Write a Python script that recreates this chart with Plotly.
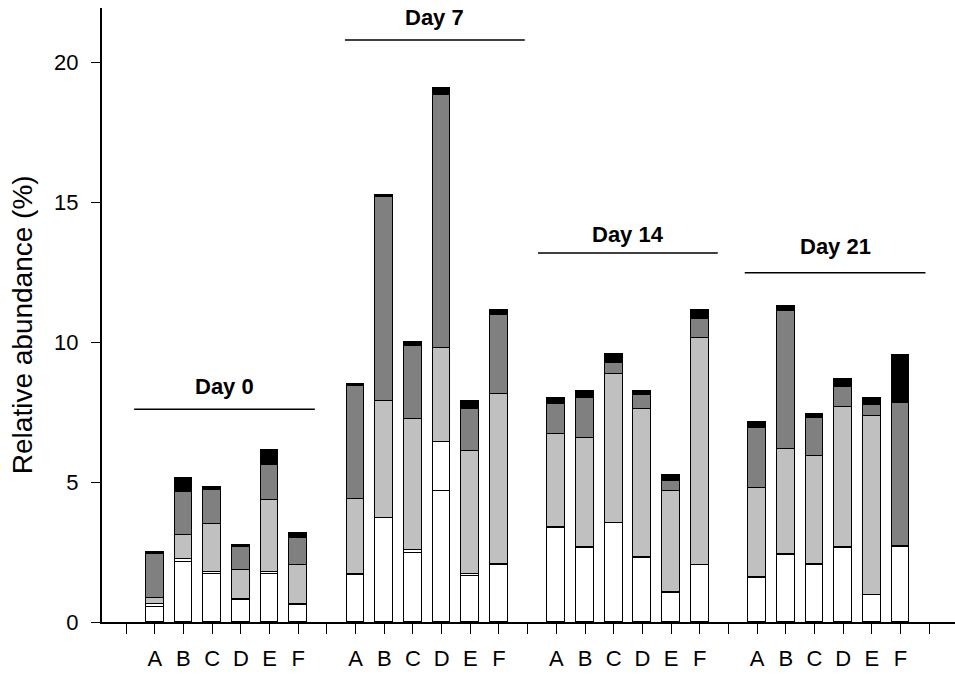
import plotly.graph_objects as go

groups = ["Day 0", "Day 7", "Day 14", "Day 21"]
samples = ["A", "B", "C", "D", "E", "F"]

# segment values, bottom to top, for each bar (Day0 A-F, Day7 A-F, Day14 A-F, Day21 A-F)
seg1_white = [0.55, 2.15, 1.72, 0.78, 1.72, 0.62,
              1.68, 3.70, 2.48, 4.68, 1.64, 2.05,
              3.35, 2.66, 3.52, 2.29, 1.03, 2.02,
              1.56, 2.39, 2.03, 2.65, 0.96, 2.68]
seg2_white = [0.10, 0.10, 0.08, 0.05, 0.08, 0.04,
              0.03, 0.03, 0.10, 1.75, 0.08, 0.03,
              0.03, 0.03, 0.03, 0.03, 0.03, 0.03,
              0.06, 0.05, 0.05, 0.03, 0.02, 0.02]
seg3_light = [0.20, 0.85, 1.70, 1.03, 2.56, 1.38,
              2.68, 4.15, 4.68, 3.35, 4.39, 6.05,
              3.32, 3.88, 5.32, 5.28, 3.63, 8.09,
              3.17, 3.73, 3.85, 4.99, 6.38, 0.00]
seg4_dark = [1.57, 1.55, 1.21, 0.83, 1.25, 0.95,
             4.05, 7.31, 2.61, 9.06, 1.50, 2.83,
             1.10, 1.44, 0.39, 0.50, 0.33, 0.67,
             2.14, 4.93, 1.37, 0.72, 0.38, 5.11]
seg5_black = [0.08, 0.48, 0.12, 0.06, 0.53, 0.18,
              0.07, 0.06, 0.13, 0.22, 0.30, 0.19,
              0.20, 0.23, 0.32, 0.15, 0.24, 0.34,
              0.21, 0.17, 0.14, 0.30, 0.27, 1.71]

# group header lines (data coords) and label offsets
header_x0 = [0.28, 7.63, 14.36, 21.57]
header_x1 = [6.58, 13.9, 20.63, 27.87]
header_y = [7.6, 20.79, 13.18, 12.47]
header_shift = [8, 8, 4, 12]

# x positions: groups separated by an empty slot
xpos = []
for g in range(len(groups)):
    for s in range(len(samples)):
        xpos.append(g * 7 + 1 + s)

tickvals = list(range(0, 29))
ticktext = []
for t in tickvals:
    if t % 7 == 0:
        ticktext.append("")
    else:
        ticktext.append(samples[(t % 7) - 1])

fig = go.Figure()
series = [(seg1_white, "white"), (seg2_white, "white"), (seg3_light, "#c0c0c0"),
          (seg4_dark, "#808080"), (seg5_black, "black")]
for vals, col in series:
    fig.add_trace(go.Bar(x=xpos, y=vals, width=0.62,
                         marker=dict(color=col, line=dict(color="black", width=1.5)),
                         showlegend=False))

for name, x0, x1, y, sh in zip(groups, header_x0, header_x1, header_y, header_shift):
    fig.add_shape(type="line", x0=x0, x1=x1, y0=y, y1=y, xref="x", yref="y",
                  line=dict(color="black", width=1.5))
    fig.add_annotation(x=(x0 + x1) / 2, y=y, text="<b>" + name + "</b>", showarrow=False,
                       yanchor="bottom", yshift=sh,
                       font=dict(size=22, color="black", family="Liberation Sans"))

# y axis title
fig.add_annotation(xref="paper", yref="paper", x=-0.0938, y=0.485, text="Relative abundance (%)",
                   textangle=-90, showarrow=False, xanchor="center", yanchor="middle",
                   font=dict(size=28, color="black", family="Liberation Sans"))

fig.update_layout(
    barmode="stack",
    width=955, height=677,
    margin=dict(l=102, r=0, t=8, b=55, autoexpand=False),
    plot_bgcolor="white", paper_bgcolor="white",
    font=dict(family="Liberation Sans", color="black"),
    bargap=0,
)
fig.update_xaxes(range=[-0.84, 28.9], tickvals=tickvals, ticktext=ticktext, ticks="outside",
                 ticklen=10, tickwidth=1, tickcolor="black", showline=True, linecolor="black", linewidth=2,
                 showgrid=False, zeroline=False, tickfont=dict(size=22), ticklabelstandoff=6,
                 automargin=False)
fig.update_yaxes(range=[0, 21.93], tickvals=[0, 5, 10, 15, 20], ticks="outside", ticklen=9, tickwidth=1,
                 tickcolor="black", showline=True, linecolor="black", linewidth=2, showgrid=False,
                 zeroline=False, tickfont=dict(size=22), ticklabelstandoff=8, automargin=False)

fig.write_html("out.html", config={"displayModeBar": False},
               post_script="document.body.style.margin='0';document.body.style.overflow='hidden';")
